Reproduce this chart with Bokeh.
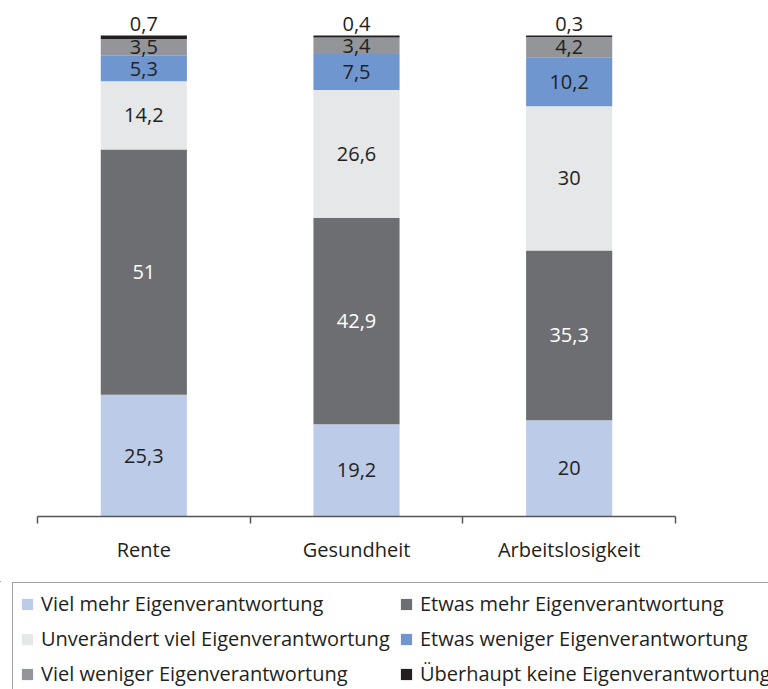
from bokeh.plotting import figure
from bokeh.models import Range1d, FixedTicker, Legend, LegendItem, ColumnDataSource
from bokeh.core.properties import value
from bokeh.embed import file_html
from bokeh.resources import INLINE

categories = ["Rente", "Gesundheit", "Arbeitslosigkeit"]
series_names = [
    "Viel mehr Eigenverantwortung",
    "Etwas mehr Eigenverantwortung",
    "Unverändert viel Eigenverantwortung",
    "Etwas weniger Eigenverantwortung",
    "Viel weniger Eigenverantwortung",
    "Überhaupt keine Eigenverantwortung",
]
viel_mehr = [25.3, 19.2, 20]
etwas_mehr = [51, 42.9, 35.3]
unveraendert = [14.2, 26.6, 30]
etwas_weniger = [5.3, 7.5, 10.2]
viel_weniger = [3.5, 3.4, 4.2]
ueberhaupt_keine = [0.7, 0.4, 0.3]
series_values = [viel_mehr, etwas_mehr, unveraendert, etwas_weniger, viel_weniger, ueberhaupt_keine]

colors = ["#BCCBE8", "#6D6E71", "#E6E7E8", "#7096D0", "#939598", "#231F20"]
label_colors = ["#231F20", "#FFFFFF", "#231F20", "#231F20", "#231F20", "#231F20"]
FONT = "Open Sans"
FS = "20px"

p = figure(width=768, height=581, x_range=Range1d(0, 3), y_range=Range1d(0, 107.3),
           output_backend="svg", toolbar_location=None, y_axis_location=None,
           min_border_left=37, min_border_right=93, min_border_top=0, min_border_bottom=65)
p.outline_line_color = None
p.xgrid.visible = False
p.ygrid.visible = False

xs = [i + 0.5 for i in range(len(categories))]
bottoms = [0.0] * len(categories)
for k, (name, vals) in enumerate(zip(series_names, series_values)):
    tops = [b + v for b, v in zip(bottoms, vals)]
    src = ColumnDataSource(dict(x=xs, bottom=bottoms, top=tops))
    p.vbar(x="x", bottom="bottom", top="top", width=0.405, source=src,
           fill_color=colors[k], line_color=None)
    texts = [f"{v:g}".replace(".", ",") for v in vals]
    if k == len(series_values) - 1:
        p.text(x=xs, y=tops, text=texts, text_align="center", text_baseline="bottom",
               y_offset=-5, text_font=value(FONT), text_font_size=FS,
               text_color=label_colors[k])
    else:
        ys = [(b + t) / 2 for b, t in zip(bottoms, tops)]
        p.text(x=xs, y=ys, text=texts, text_align="center", text_baseline="middle",
               text_font=value(FONT), text_font_size=FS, text_color=label_colors[k])
    bottoms = tops

ax = p.xaxis[0]
ax.ticker = FixedTicker(ticks=xs, minor_ticks=list(range(len(categories) + 1)))
ax.major_label_overrides = {x: c for x, c in zip(xs, categories)}
ax.major_tick_out = 0
ax.major_tick_in = 0
ax.minor_tick_out = 7
ax.minor_tick_in = 0
ax.minor_tick_line_color = "#555555"
ax.minor_tick_line_width = 1.5
ax.axis_line_color = "#555555"
ax.axis_line_width = 1.5
ax.major_label_standoff = 12
ax.major_label_text_font = FONT
ax.major_label_text_font_size = FS
ax.major_label_text_color = "#231F20"

# legend panel below the chart (its bars lie entirely outside its visible ranges)
lg = figure(width=768, height=108, x_range=Range1d(10, 13), y_range=Range1d(-2, -1),
            output_backend="svg", toolbar_location=None,
            x_axis_location=None, y_axis_location=None,
            min_border_left=0, min_border_right=0, min_border_top=0, min_border_bottom=0)
lg.outline_line_color = None
lg.xgrid.visible = False
lg.ygrid.visible = False
items = []
for k, (name, vals) in enumerate(zip(series_names, series_values)):
    r = lg.vbar(x=xs, top=vals, width=0.405, fill_color=colors[k], line_color=None)
    items.append(LegendItem(label=name, renderers=[r]))

legend = Legend(items=items, location=(12, -6), ncols=2, orientation="horizontal",
                border_line_color="#444444", border_line_width=1.5,
                glyph_width=14, glyph_height=14, label_standoff=7, spacing=8,
                padding=7, label_width=350, margin=0,
                label_text_font=FONT, label_text_font_size=FS,
                label_text_color="#231F20")
lg.add_layout(legend, "center")

open("out.html", "w").write(file_html([p, lg], INLINE))
